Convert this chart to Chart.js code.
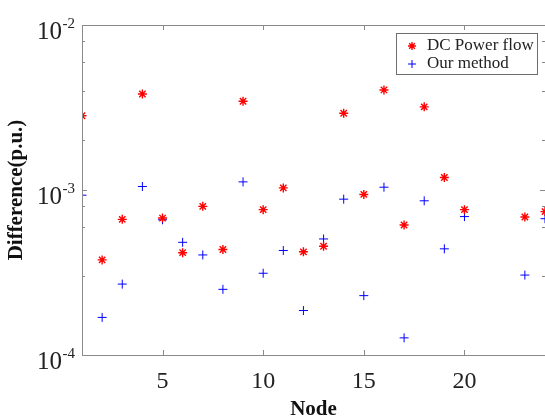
<!DOCTYPE html>
<html>
<head>
<meta charset="utf-8">
<script src="https://cdn.jsdelivr.net/npm/chart.js@4.4.1/dist/chart.umd.min.js"></script>
<style>
  html, body { margin: 0; padding: 0; background: #fff; }
  .chart { position: relative; width: 545px; height: 418px; }
</style>
</head>
<body>
<div class="chart">
  <canvas id="chart-scatter"></canvas>
</div>
<script>
// node numbers (21 and 22 have no marks)
const nodes = [1, 2, 3, 4, 5, 6, 7, 8, 9, 10, 11, 12, 13, 14, 15, 16, 17, 18, 19, 20, 21, 22, 23, 24];

const dcPowerFlow = [
  2.82e-3, 3.77e-4, 6.64e-4, 3.82e-3, 6.76e-4, 4.17e-4, 7.96e-4, 4.36e-4,
  3.45e-3, 7.6e-4, 1.03e-3, 4.22e-4, 4.56e-4, 2.92e-3, 9.4e-4, 4.04e-3,
  6.14e-4, 3.19e-3, 1.19e-3, 7.6e-4, null, null, 6.86e-4, 7.4e-4,
];

const ourMethod = [
  9.3e-4, 1.69e-4, 2.69e-4, 1.05e-3, 6.6e-4, 4.82e-4, 4.04e-4, 2.5e-4,
  1.12e-3, 3.13e-4, 4.3e-4, 1.86e-4, 5.05e-4, 8.8e-4, 2.29e-4, 1.04e-3,
  1.27e-4, 8.6e-4, 4.4e-4, 6.9e-4, null, null, 3.05e-4, 6.7e-4,
];

const xTicks = [5, 10, 15, 20];
const yExponents = ["-2", "-3", "-4"];
const seriesNames = ["DC Power flow", "Our method"];

const toPoints = (vals) =>
  nodes.map((n, i) => ({ x: n, y: vals[i] })).filter((p) => p.y !== null);

const AXIS = "#8a8a8a";
const TEXT = "#222";
const SERIF = "'Liberation Serif', 'Times New Roman', serif";

function drawStar(ctx, x, y, r) {
  ctx.beginPath();
  ctx.moveTo(x - r, y); ctx.lineTo(x + r, y);
  ctx.moveTo(x, y - r); ctx.lineTo(x, y + r);
  const d = r * 0.7071;
  ctx.moveTo(x - d, y - d); ctx.lineTo(x + d, y + d);
  ctx.moveTo(x - d, y + d); ctx.lineTo(x + d, y - d);
  ctx.stroke();
}

function drawPlus(ctx, x, y, r) {
  ctx.beginPath();
  ctx.moveTo(x - r, y); ctx.lineTo(x + r, y);
  ctx.moveTo(x, y - r); ctx.lineTo(x, y + r);
  ctx.stroke();
}

// matlab-ish axes: box, inward ticks, superscript log labels, titles, legend
const matlabAxes = {
  id: "matlabAxes",
  afterDraw(chart) {
    const ctx = chart.ctx;
    const { left, right, top, bottom } = chart.chartArea;
    const xs = chart.scales.x;
    const ys = chart.scales.y;

    ctx.save();
    ctx.strokeStyle = AXIS;
    ctx.lineWidth = 1;

    // box (right edge falls just off the canvas, like the cropped original)
    ctx.beginPath();
    ctx.moveTo(left + 0.5, top + 0.5);
    ctx.lineTo(right + 0.5, top + 0.5);
    ctx.lineTo(right + 0.5, bottom + 0.5);
    ctx.lineTo(left + 0.5, bottom + 0.5);
    ctx.closePath();
    ctx.stroke();

    // x ticks top + bottom
    ctx.beginPath();
    xs.ticks.forEach((t) => {
      const px = Math.round(xs.getPixelForValue(t.value)) + 0.5;
      ctx.moveTo(px, bottom); ctx.lineTo(px, bottom - 5);
      ctx.moveTo(px, top); ctx.lineTo(px, top + 5);
    });
    ctx.stroke();

    // y ticks left + right, major and minor
    ctx.beginPath();
    ys.ticks.forEach((t) => {
      const lg = Math.log10(t.value);
      const major = Math.abs(lg - Math.round(lg)) < 1e-6;
      const len = major ? 5 : 3;
      const py = Math.round(ys.getPixelForValue(t.value)) + 0.5;
      ctx.moveTo(left, py); ctx.lineTo(left + len, py);
      ctx.moveTo(right, py); ctx.lineTo(right - len, py);
    });
    ctx.stroke();

    // x tick labels
    ctx.fillStyle = TEXT;
    ctx.font = `24px ${SERIF}`;
    ctx.textAlign = "center";
    ctx.textBaseline = "alphabetic";
    xs.ticks.forEach((t) => {
      ctx.fillText(String(t.value), xs.getPixelForValue(t.value), bottom + 33);
    });

    // y tick labels 10^n
    yExponents.forEach((e) => {
      const py = ys.getPixelForValue(Math.pow(10, Number(e)));
      ctx.font = `15px ${SERIF}`;
      ctx.textAlign = "right";
      ctx.fillText(e, 75, py + 2.5);
      const ew = ctx.measureText(e).width;
      ctx.font = `25px ${SERIF}`;
      ctx.fillText("10", 75 - ew - 0.5, py + 13.5);
    });

    // axis titles
    ctx.fillStyle = "#111";
    ctx.font = `bold 21px ${SERIF}`;
    ctx.textAlign = "center";
    ctx.fillText("Node", (left + right) / 2, 415);

    ctx.save();
    ctx.translate(22, (top + bottom) / 2);
    ctx.rotate(-Math.PI / 2);
    ctx.fillText("Difference(p.u.)", 0, 0);
    ctx.restore();

    // legend
    const lx = 396, ly = 33, lw = 141, lh = 41;
    ctx.fillStyle = "#fff";
    ctx.fillRect(lx, ly, lw, lh);
    ctx.strokeStyle = "#6e6e6e";
    ctx.strokeRect(lx + 0.5, ly + 0.5, lw, lh);

    ctx.font = `17px ${SERIF}`;
    ctx.textAlign = "left";
    ctx.textBaseline = "middle";
    ctx.fillStyle = TEXT;
    ctx.fillText(seriesNames[0], 427, 46);
    ctx.fillText(seriesNames[1], 427, 64);

    ctx.lineWidth = 1.4;
    ctx.strokeStyle = "#ff0000";
    drawStar(ctx, 412, 46, 4);
    ctx.lineWidth = 1;
    ctx.strokeStyle = "#0000ff";
    drawPlus(ctx, 412, 64, 4);

    ctx.restore();
  },
};

const ctx = document.getElementById("chart-scatter").getContext("2d");
new Chart(ctx, {
  type: "scatter",
  data: {
    datasets: [
      {
        label: seriesNames[0],
        data: toPoints(dcPowerFlow),
        pointStyle: "star",
        pointRadius: 4.5,
        borderColor: "#ff0000",
        backgroundColor: "#ff0000",
        pointBorderWidth: 1.4,
      },
      {
        label: seriesNames[1],
        data: toPoints(ourMethod),
        pointStyle: "cross",
        pointRadius: 4.5,
        borderColor: "#0000ff",
        backgroundColor: "#0000ff",
        pointBorderWidth: 1,
      },
    ],
  },
  options: {
    responsive: true,
    maintainAspectRatio: false,
    animation: false,
    layout: {
      autoPadding: false,
      padding: { left: 82, top: 25, right: 0, bottom: 63 },
    },
    plugins: {
      legend: { display: false },
      tooltip: { enabled: false },
    },
    scales: {
      x: {
        type: "linear",
        display: false,
        min: 1,
        max: 24,
        afterBuildTicks: (scale) => {
          scale.ticks = xTicks.map((v) => ({ value: v }));
        },
      },
      y: {
        type: "logarithmic",
        display: false,
        min: 1e-4,
        max: 1e-2,
      },
    },
  },
  plugins: [matlabAxes],
});
</script>
</body>
</html>
